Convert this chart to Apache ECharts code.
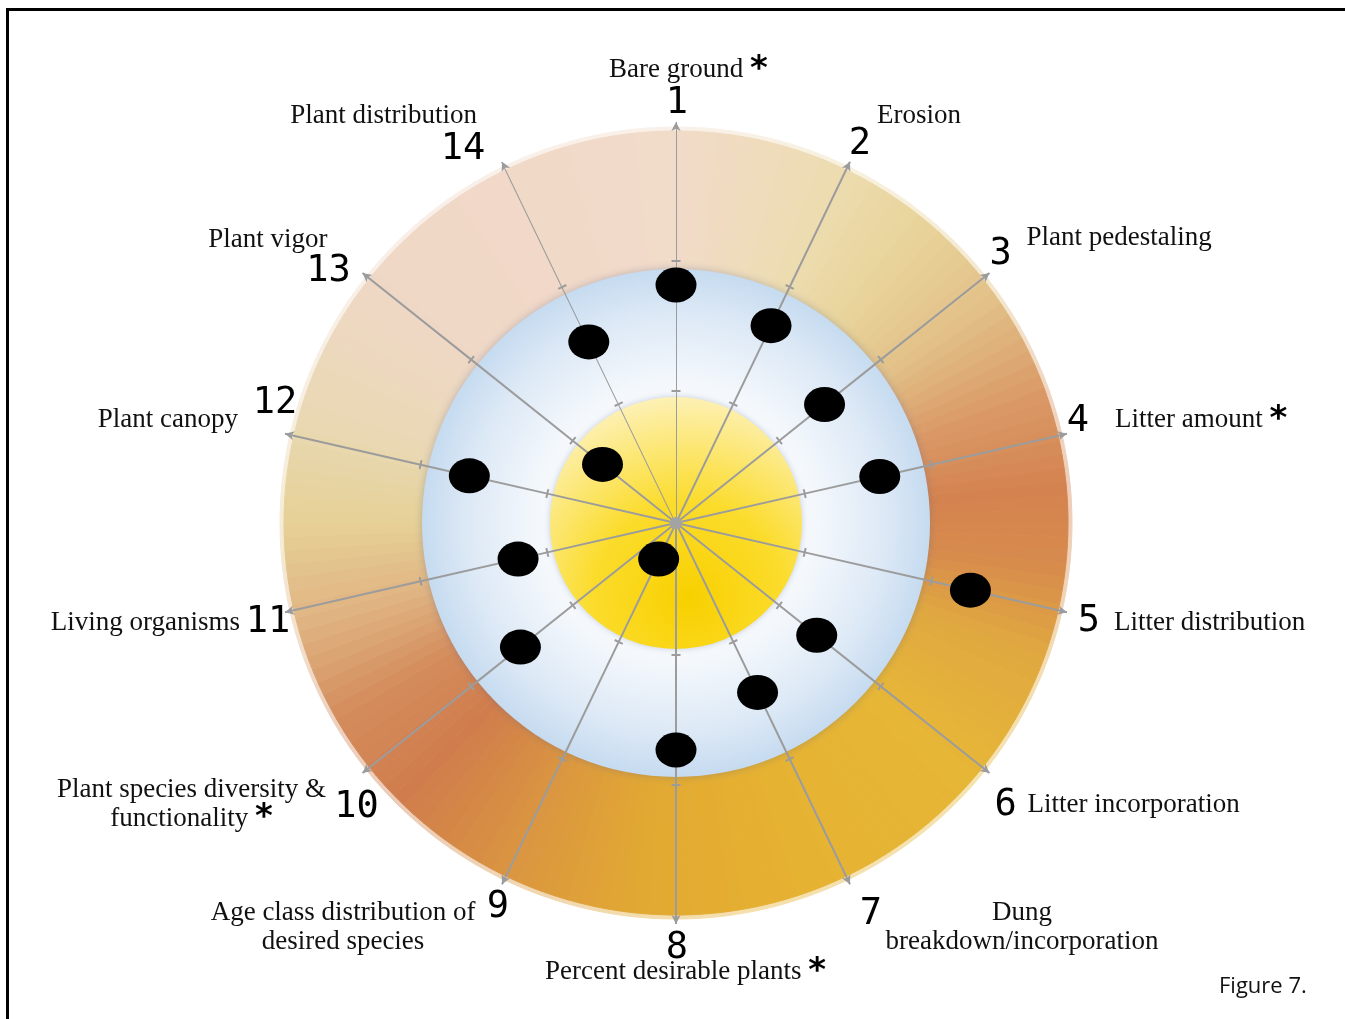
<!DOCTYPE html>
<html>
<head>
<meta charset="utf-8">
<title>Figure 7</title>
<script src="https://cdn.jsdelivr.net/npm/echarts/dist/echarts.min.js"></script>
<style>
html, body { margin: 0; padding: 0; background: #fff; }
#chart { position: absolute; left: 0; top: 0; width: 1345px; height: 1019px; }
#frame { position: absolute; left: 6px; top: 8px; width: 1345px; height: 1019px;
  border-top: 3px solid #000; border-left: 3px solid #000; pointer-events: none; }
</style>
</head>
<body>
<div id="chart"></div>
<div id="frame"></div>
<script>
// indicators, clockwise from the top
var numbers = ['1', '2', '3', '4', '5', '6', '7', '8', '9', '10', '11', '12', '13', '14'];
var indicators = [
  'Bare ground',
  'Erosion',
  'Plant pedestaling',
  'Litter amount',
  'Litter distribution',
  'Litter incorporation',
  'Dung\nbreakdown/incorporation',
  'Percent desirable plants',
  'Age class distribution of\ndesired species',
  'Plant species diversity &\nfunctionality',
  'Living organisms',
  'Plant canopy',
  'Plant vigor',
  'Plant distribution'
];
var starred = [true, false, false, true, false, false, false, true, false, true, false, false, false, false];

// rating of each indicator = distance of its dot from the centre
var ratings = [238, 219, 190, 209, 302, 180, 188, 227, 40, 199, 162, 212, 94, 201];

// radial bands and spoke marks
var yellowR = 126;
var blueR = 254;
var ringR = 393;
var spokeTicks = [132, 262];
var spokeEnd = 401;

// label placement, relative to the tip of each spoke
var numberOffset = [[1, -19], [10, -17], [11, -19], [11, -12], [22, 9], [16, 32], [21, 30],
  [1, 24], [-4, 23], [-6, 34], [-17, 10], [-10, -30], [-34, -2], [-39, -12]];
// names, relative to the number
var nameLayout = [
  { align: 'left', offset: [-68, -33] },
  { align: 'left', offset: [17, -29] },
  { align: 'left', offset: [26, -16] },
  { align: 'left', offset: [37, -2] },
  { align: 'left', offset: [25, 2] },
  { align: 'left', offset: [22, 0] },
  { align: 'center', offset: [151, 13] },
  { align: 'left', offset: [-132, 24] },
  { align: 'center', offset: [-155, 20] },
  { align: 'center', offset: [-165, -3] },
  { align: 'right', offset: [-28, 1] },
  { align: 'right', offset: [-37, 16] },
  { align: 'right', offset: [-1, -31] },
  { align: 'right', offset: [14, -34] }
];

// colour of the outer ring going round clockwise from the top
var ringStops = [
  [0, '#f1dbc9'], [25, '#eddcb0'], [40, '#e8d39a'], [55, '#e2c088'], [70, '#da9a68'],
  [85, '#d4824f'], [97, '#d88c4c'], [110, '#e0a840'], [130, '#e6b636'], [160, '#e6b232'],
  [185, '#e2a932'], [205, '#da9640'], [225, '#d07c4c'], [240, '#d48c5c'], [255, '#e0b482'],
  [270, '#e6d096'], [285, '#e9d8b2'], [305, '#eed8c4'], [330, '#f1d8c8'], [360, '#f1dbc9']
];

var CX = 676, CY = 523, R = 440;
var STEP = 360 / numbers.length;

function toRgb(c) {
  return [parseInt(c.substr(1, 2), 16), parseInt(c.substr(3, 2), 16), parseInt(c.substr(5, 2), 16)];
}
function ringColor(deg, fade) {
  for (var k = 0; k < ringStops.length - 1; k++) {
    var a = ringStops[k], b = ringStops[k + 1];
    if (deg >= a[0] && deg <= b[0]) {
      var t = (deg - a[0]) / (b[0] - a[0]);
      var ca = toRgb(a[1]), cb = toRgb(b[1]);
      return 'rgb(' + ca.map(function (v, j) {
        var c = v + (cb[j] - v) * t;
        return Math.round(c + (255 - c) * fade);
      }).join(',') + ')';
    }
  }
  return ringStops[0][1];
}

var ringSlices = [], haloSlices = [];
for (var s = 0; s < 180; s++) {
  var col = ringColor((s + 0.5) * 2, 0);
  var soft = ringColor((s + 0.5) * 2, 0.6);
  ringSlices.push({ value: 1, itemStyle: { color: col, borderColor: col, borderWidth: 1 } });
  haloSlices.push({ value: 1, itemStyle: { color: soft, borderColor: soft, borderWidth: 1 } });
}

var chart = echarts.init(document.getElementById('chart'));

var series = [];
var pieBase = {
  type: 'pie', center: [CX, CY], startAngle: 90, clockwise: true, silent: true,
  animation: false, label: { show: false }, labelLine: { show: false },
  emphasis: { disabled: true }
};
series.push(Object.assign({}, pieBase, {
  z: 0, radius: [ringR - 6, ringR + 3], data: haloSlices
}));
series.push(Object.assign({}, pieBase, {
  z: 1, radius: [blueR - 4, ringR - 1], data: ringSlices
}));
series.push(Object.assign({}, pieBase, {
  z: 2, radius: [0, blueR],
  data: [{ value: 1, itemStyle: {
    color: { type: 'radial', x: 0.5, y: 0.5, r: 0.5, colorStops: [
      { offset: 0, color: '#ffffff' }, { offset: 0.55, color: '#f4f8fc' },
      { offset: 0.82, color: '#dde9f6' }, { offset: 1, color: '#c6dbf0' }] },
    shadowBlur: 8, shadowColor: 'rgba(90,100,130,0.35)'
  } }]
}));
series.push(Object.assign({}, pieBase, {
  z: 3, radius: [0, yellowR],
  data: [{ value: 1, itemStyle: {
    color: { type: 'radial', x: 0.55, y: 0.8, r: 0.85, colorStops: [
      { offset: 0, color: '#f8d000' }, { offset: 0.45, color: '#fbdc2c' },
      { offset: 1, color: '#fdf3c4' }] },
    shadowBlur: 6, shadowColor: 'rgba(110,120,150,0.35)'
  } }]
}));

// spokes with two tick marks and an arrow head
numbers.forEach(function (n, i) {
  var rot = -i * STEP;
  var pts = [{ value: [0, i], symbol: 'none' }];
  spokeTicks.forEach(function (r) {
    pts.push({ value: [r, i], symbol: 'rect', symbolSize: [9, 2], symbolRotate: rot });
  });
  pts.push({ value: [spokeEnd, i], symbol: 'arrow', symbolSize: [7, 9], symbolRotate: rot });
  series.push({
    type: 'line', coordinateSystem: 'polar', z: 5, silent: true, animation: false,
    showAllSymbol: true, data: pts,
    lineStyle: { color: '#9c9c9c', width: 2 },
    itemStyle: { color: '#9c9c9c' }
  });
});

// centre hub
series.push({
  type: 'scatter', coordinateSystem: 'polar', z: 6, silent: true, animation: false,
  symbolSize: 12, itemStyle: { color: '#a3a3a3', opacity: 1 }, data: [[0, 0]]
});

// rating dots
series.push({
  type: 'scatter', coordinateSystem: 'polar', z: 7, silent: true, animation: false,
  symbol: 'circle', symbolSize: [41, 35], itemStyle: { color: '#000', opacity: 1 },
  data: ratings.map(function (r, i) { return [r, i]; })
});

// spoke numbers
series.push({
  type: 'scatter', coordinateSystem: 'polar', z: 8, silent: true, animation: false,
  symbolSize: 0, itemStyle: { color: '#fff', opacity: 1 },
  data: numbers.map(function (n, i) {
    return {
      value: [spokeEnd, i],
      label: {
        show: true, position: 'inside', align: 'center', verticalAlign: 'middle',
        offset: numberOffset[i], opacity: 1,
        fontFamily: 'DejaVu Sans Mono', fontSize: 37, color: '#000',
        formatter: n
      }
    };
  })
});

// indicator names
series.push({
  type: 'scatter', coordinateSystem: 'polar', z: 8, silent: true, animation: false,
  symbolSize: 0, itemStyle: { color: '#fff', opacity: 1 },
  data: indicators.map(function (name, i) {
    return {
      value: [spokeEnd, i],
      label: {
        show: true, position: 'inside', verticalAlign: 'middle', opacity: 1,
        align: nameLayout[i].align,
        offset: [numberOffset[i][0] + nameLayout[i].offset[0], numberOffset[i][1] + nameLayout[i].offset[1]],
        fontFamily: 'Liberation Serif', fontSize: 27, lineHeight: 29, color: '#111',
        formatter: name + (starred[i] ? ' {s|*}' : ''),
        rich: { s: { fontFamily: 'DejaVu Sans', fontWeight: 'bold', fontSize: 34, color: '#000' } }
      }
    };
  })
});

chart.setOption({
  animation: false,
  title: {
    text: 'Figure 7.', left: 1214, top: 971,
    textStyle: { fontFamily: 'Open Sans', fontSize: 22, fontWeight: 'normal', color: '#111' }
  },
  polar: { center: [CX, CY], radius: R },
  angleAxis: {
    type: 'category', data: numbers, startAngle: 90, clockwise: true, boundaryGap: false,
    axisLine: { show: false }, axisTick: { show: false }, axisLabel: { show: false },
    splitLine: { show: false }
  },
  radiusAxis: {
    type: 'value', min: 0, max: R,
    axisLine: { show: false }, axisTick: { show: false }, axisLabel: { show: false },
    splitLine: { show: false }
  },
  series: series
});
</script>
</body>
</html>
